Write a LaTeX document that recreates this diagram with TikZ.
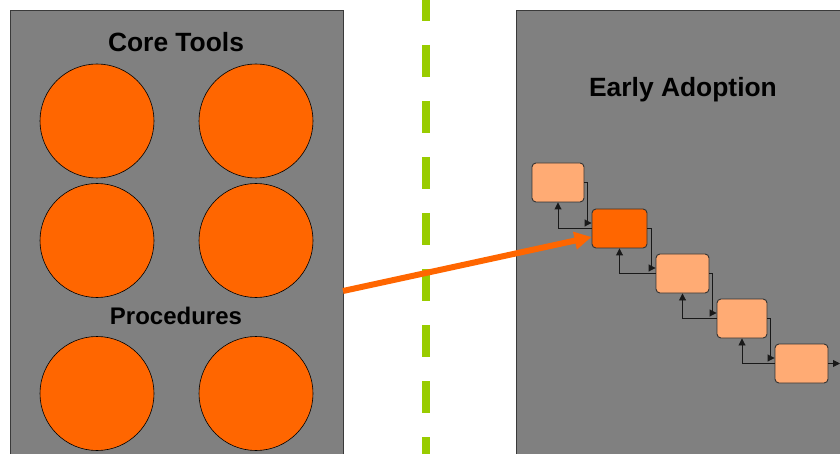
\documentclass[tikz,border=0pt]{standalone}
\usepackage{fontspec}
\setmainfont{Liberation Sans}
\usetikzlibrary{arrows.meta}
\definecolor{panelgray}{HTML}{808080}
\definecolor{paneledge}{HTML}{3A3A3A}
\definecolor{hotorange}{HTML}{FF6600}
\definecolor{paleorange}{HTML}{FFAB74}
\definecolor{limegreen}{HTML}{99CC00}
\tikzset{
  panel/.style={fill=panelgray, draw=paneledge, line width=1pt},
  disc/.style={circle, fill=hotorange, draw=black, line width=0.6pt, minimum size=114pt, inner sep=0pt},
  heading/.style={font=\fontsize{26.4}{30}\selectfont\bfseries, text=black, anchor=base, inner sep=0pt},
  subheading/.style={heading, font=\fontsize{24}{28}\selectfont\bfseries},
  stage/.style={rectangle, rounded corners=4pt, fill=paleorange, draw=black!80, line width=0.9pt, minimum height=39pt, inner sep=0pt},
  current/.style={stage, fill=hotorange},
  flow/.style={draw=black!90, line width=0.9pt, -{Triangle[length=7pt,width=7pt]}},
  divider/.style={draw=limegreen, line width=8pt, dash pattern=on 32pt off 24pt},
  jump/.style={draw=hotorange, line width=6pt, -{Triangle[length=17pt,width=17pt]}}
}
\begin{document}
\begin{tikzpicture}[x=1pt, y=-1pt]
  \useasboundingbox (0,0) rectangle (840,454);
  \fill[white] (0,0) rectangle (840,454);

  % two panels
  \draw[panel] (10,470) -- (10,11) -- (343,11) -- (343,470);
  \draw[panel] (516,470) -- (516,11) -- (860,11);
  \fill[panelgray] (516.5,11.5) rectangle (860,470);

  % dashed divider
  \path[divider] (426,-11) -- (426,470);

  % left panel: tools and procedures
  \node[heading] (tools) at (176,52) {Core Tools};
  \node[disc] (c1) at (97,121) {};
  \node[disc] (c2) at (256,121) {};
  \node[disc] (c3) at (97,240.5) {};
  \node[disc] (c4) at (256,240.5) {};
  \node[subheading] (proc) at (176,324) {Procedures};
  \node[disc] (c5) at (97,393.5) {};
  \node[disc] (c6) at (256,393.5) {};

  % right panel: staircase of stages
  \node[heading] (early) at (683,97) {Early Adoption};
  \node[stage, minimum width=52pt] (b1) at (558,182.5) {};
  \node[current, minimum width=55pt] (b2) at (619.5,228.5) {};
  \node[stage, minimum width=53pt] (b3) at (682.5,273.5) {};
  \node[stage, minimum width=50pt] (b4) at (742,318.5) {};
  \node[stage, minimum width=53pt] (b5) at (801.5,363.5) {};
  \coordinate (exit) at (840,363.5);

  % forward links
  \foreach \a/\b in {b1/b2, b2/b3, b3/b4, b4/b5}{
    \draw[flow] (\a.east) -| ([xshift=-4pt,yshift=5.5pt]\b.west) -- ([yshift=5.5pt]\b.west);
  }
  % return links
  \foreach \a/\b in {b2/b1, b3/b2, b4/b3, b5/b4}{
    \draw[flow] (\a.west) -| (\b.south);
  }
  \draw[flow] (b5.east) -- (exit);

  % transfer arrow
  \coordinate (src) at (343,291);
  \draw[jump] (src) -- ([yshift=-8.5pt]b2.west);
\end{tikzpicture}
\end{document}
